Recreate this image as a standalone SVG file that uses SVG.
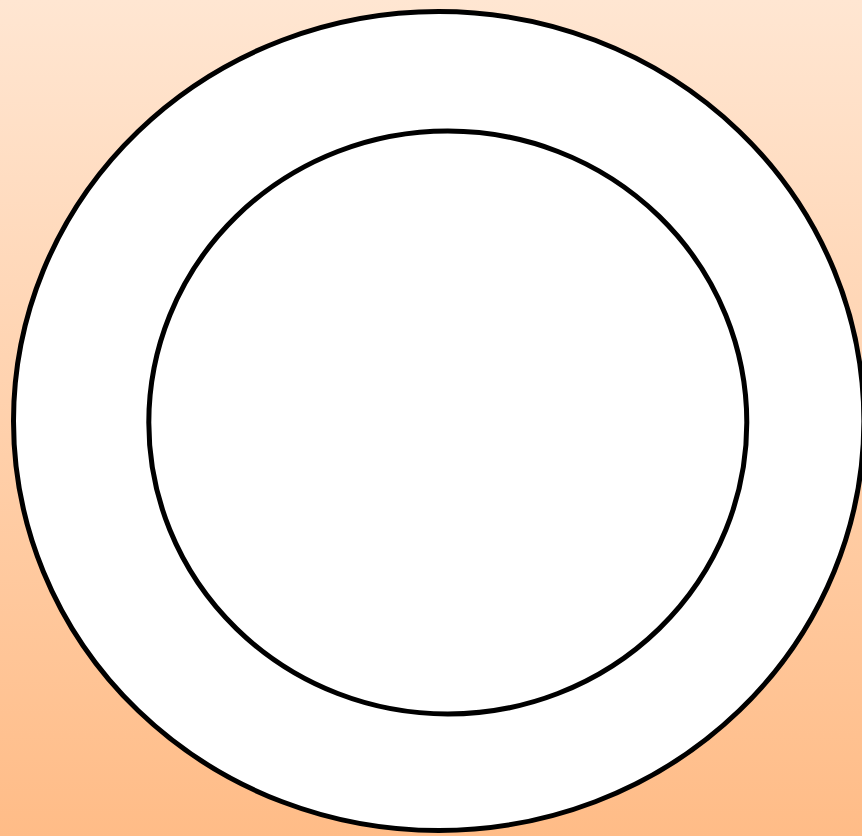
<svg xmlns="http://www.w3.org/2000/svg" width="862" height="836" viewBox="0 0 862 836">
<defs>
<linearGradient id="bg" x1="0" y1="0" x2="0" y2="1">
<stop offset="0" stop-color="#FFE6D2"/>
<stop offset="1" stop-color="#FFBC87"/>
</linearGradient>
<style>
.ring{fill:#FFFFFF;stroke:#000000;stroke-width:5}
</style>
</defs>
<rect x="0" y="0" width="862" height="836" fill="url(#bg)"/>
<g id="outer">
<ellipse class="ring" cx="438.7" cy="421" rx="425.2" ry="409.5"/>
</g>
<g id="inner">
<ellipse class="ring" cx="447.8" cy="422.5" rx="299" ry="291.5"/>
</g>
<g id="connectors"/>
</svg>
